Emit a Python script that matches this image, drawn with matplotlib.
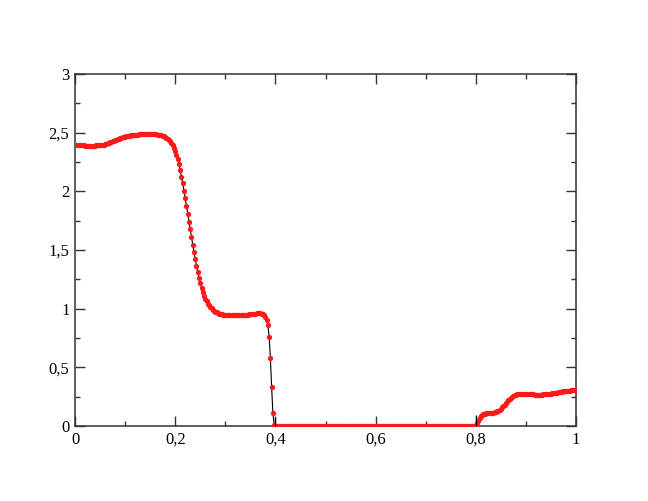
import numpy as np
import matplotlib
matplotlib.use("Agg")
import matplotlib.pyplot as plt
from matplotlib.ticker import MultipleLocator, FuncFormatter

# cell centres on a uniform grid (401 nodes from 0 to 1, step 0.0025)
x_nodes = np.linspace(0.0, 1.0, 401)

# values, one per node
density = [
    # 0 - 0.05
    2.392, 2.392, 2.392, 2.392, 2.392, 2.391, 2.391, 2.391, 2.390, 2.390,
    2.390, 2.390, 2.390, 2.390, 2.390, 2.390, 2.390, 2.391, 2.391, 2.392,
    2.393,
    # 0.0525 - 0.1
    2.395, 2.397, 2.399, 2.402, 2.405, 2.409, 2.413, 2.417, 2.421, 2.426,
    2.430, 2.435, 2.439, 2.444, 2.448, 2.452, 2.456, 2.459, 2.462, 2.465,
    # 0.1025 - 0.15
    2.468, 2.471, 2.473, 2.475, 2.477, 2.479, 2.481, 2.482, 2.483, 2.484,
    2.485, 2.486, 2.486, 2.487, 2.487, 2.488, 2.488, 2.488, 2.488, 2.488,
    # 0.1525 - 0.2
    2.488, 2.487, 2.487, 2.486, 2.485, 2.484, 2.482, 2.480, 2.477, 2.473,
    2.468, 2.462, 2.455, 2.447, 2.437, 2.425, 2.410, 2.393, 2.372, 2.345,
    # 0.2025 - 0.25
    2.313, 2.275, 2.232, 2.180, 2.125, 2.068, 2.005, 1.940, 1.876, 1.810,
    1.742, 1.675, 1.607, 1.543, 1.480, 1.420, 1.365, 1.312, 1.262, 1.215,
    # 0.2525 - 0.3
    1.176, 1.140, 1.110, 1.085, 1.063, 1.044, 1.028, 1.014, 1.002, 0.992,
    0.983, 0.975, 0.968, 0.962, 0.958, 0.955, 0.952, 0.949, 0.947, 0.946,
    # 0.3025 - 0.35
    0.945, 0.945, 0.944, 0.944, 0.944, 0.944, 0.944, 0.944, 0.945, 0.945,
    0.945, 0.946, 0.946, 0.947, 0.947, 0.948, 0.949, 0.950, 0.951, 0.952,
    # 0.3525 - 0.4
    0.953, 0.955, 0.956, 0.958, 0.959, 0.960, 0.960, 0.960, 0.958, 0.954,
    0.945, 0.930, 0.905, 0.860, 0.760, 0.580, 0.330, 0.110, 0.010, 0.000,
    # 0.4025 - 0.7975
    0.0, 0.0, 0.0, 0.0, 0.0, 0.0, 0.0, 0.0, 0.0, 0.0,
    0.0, 0.0, 0.0, 0.0, 0.0, 0.0, 0.0, 0.0, 0.0, 0.0,
    0.0, 0.0, 0.0, 0.0, 0.0, 0.0, 0.0, 0.0, 0.0, 0.0,
    0.0, 0.0, 0.0, 0.0, 0.0, 0.0, 0.0, 0.0, 0.0, 0.0,
    0.0, 0.0, 0.0, 0.0, 0.0, 0.0, 0.0, 0.0, 0.0, 0.0,
    0.0, 0.0, 0.0, 0.0, 0.0, 0.0, 0.0, 0.0, 0.0, 0.0,
    0.0, 0.0, 0.0, 0.0, 0.0, 0.0, 0.0, 0.0, 0.0, 0.0,
    0.0, 0.0, 0.0, 0.0, 0.0, 0.0, 0.0, 0.0, 0.0, 0.0,
    0.0, 0.0, 0.0, 0.0, 0.0, 0.0, 0.0, 0.0, 0.0, 0.0,
    0.0, 0.0, 0.0, 0.0, 0.0, 0.0, 0.0, 0.0, 0.0, 0.0,
    0.0, 0.0, 0.0, 0.0, 0.0, 0.0, 0.0, 0.0, 0.0, 0.0,
    0.0, 0.0, 0.0, 0.0, 0.0, 0.0, 0.0, 0.0, 0.0, 0.0,
    0.0, 0.0, 0.0, 0.0, 0.0, 0.0, 0.0, 0.0, 0.0, 0.0,
    0.0, 0.0, 0.0, 0.0, 0.0, 0.0, 0.0, 0.0, 0.0, 0.0,
    0.0, 0.0, 0.0, 0.0, 0.0, 0.0, 0.0, 0.0, 0.0, 0.0,
    0.0, 0.0, 0.0, 0.0, 0.0, 0.0, 0.0, 0.0, 0.0,
    # 0.8
    0.008,
    # 0.8025 - 0.85
    0.025, 0.045, 0.065, 0.083, 0.095, 0.102, 0.106, 0.108, 0.110, 0.111,
    0.112, 0.113, 0.114, 0.115, 0.117, 0.120, 0.124, 0.130, 0.138, 0.147,
    # 0.8525 - 0.9
    0.158, 0.170, 0.182, 0.195, 0.207, 0.219, 0.230, 0.241, 0.250, 0.257,
    0.263, 0.267, 0.270, 0.272, 0.273, 0.273, 0.273, 0.273, 0.272, 0.272,
    # 0.9025 - 0.95
    0.271, 0.271, 0.270, 0.270, 0.269, 0.269, 0.268, 0.268, 0.268, 0.268,
    0.268, 0.268, 0.268, 0.269, 0.269, 0.270, 0.271, 0.272, 0.274, 0.275,
    # 0.9525 - 1.0
    0.277, 0.279, 0.281, 0.283, 0.285, 0.287, 0.289, 0.291, 0.293, 0.295,
    0.296, 0.298, 0.299, 0.301, 0.302, 0.303, 0.304, 0.305, 0.306, 0.307,
]

# small black overshoot spikes of the line at the two jumps
spike_x = [0.3992, 0.7997]
spike_top = [0.07, 0.09]

x_ticks = [0.0, 0.2, 0.4, 0.6, 0.8, 1.0]
y_ticks = [0.0, 0.5, 1.0, 1.5, 2.0, 2.5, 3.0]

plt.rcParams['font.family'] = ['Liberation Serif', 'DejaVu Serif']

fig = plt.figure(figsize=(6.48, 5.01), dpi=100)
ax = fig.add_axes([75 / 648, 75 / 501, 501 / 648, 352 / 501])

ax.plot(x_nodes[:len(density)], density, color='black', lw=0.8, zorder=2)
ax.plot(x_nodes[:len(density)], density, ls='none', marker='o', ms=3.8,
        mfc='#ff1a1a', mec='#ff1a1a', mew=0.0, zorder=3)
ax.vlines(spike_x, 0, spike_top, color='black', lw=0.9, zorder=4)

ax.set_xlim(0, 1)
ax.set_ylim(0, 3)
ax.set_xticks(x_ticks)
ax.set_yticks(y_ticks)
ax.xaxis.set_minor_locator(MultipleLocator(0.1))
ax.yaxis.set_minor_locator(MultipleLocator(0.25))


def comma(v, pos):
    s = ('%g' % v)
    return s.replace('.', ',')


ax.xaxis.set_major_formatter(FuncFormatter(comma))
ax.yaxis.set_major_formatter(FuncFormatter(comma))

ax.tick_params(which='both', direction='in', top=True, right=True,
               color='#333333', width=1.0, labelsize=12, pad=4)
ax.tick_params(which='major', length=7)
ax.tick_params(which='minor', length=3.6)
for s in ax.spines.values():
    s.set_linewidth(1.1)
    s.set_color('#333333')

fig.savefig('out.png', dpi=100)
